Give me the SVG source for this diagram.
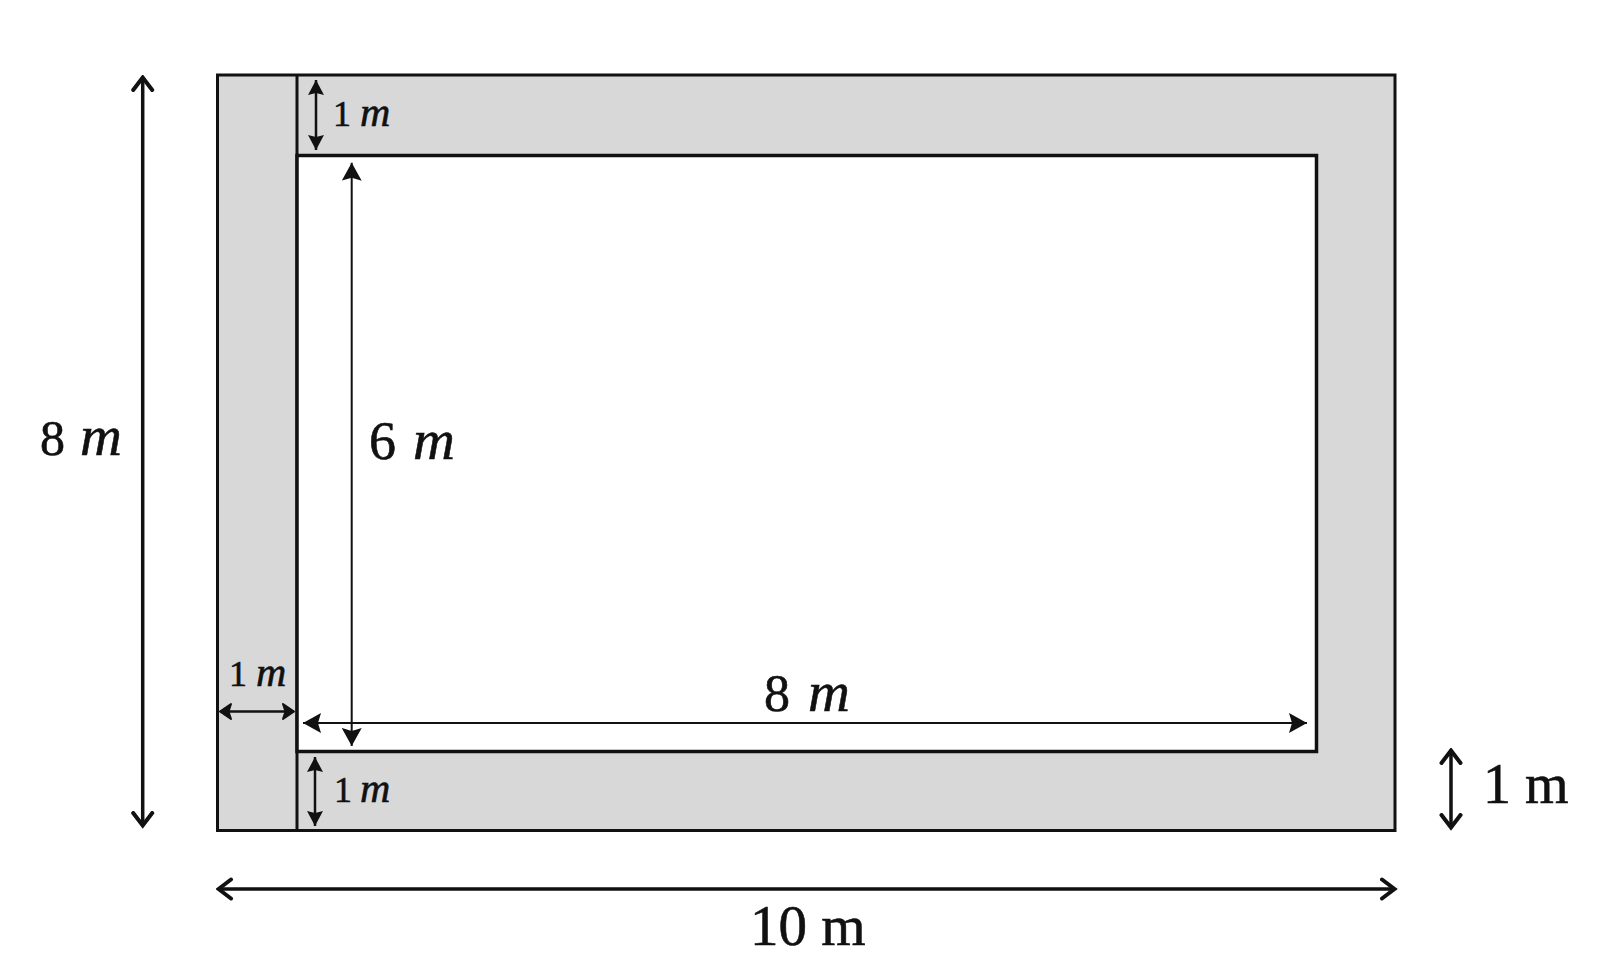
<svg xmlns="http://www.w3.org/2000/svg" width="1609" height="977" viewBox="0 0 1609 977">
<style>
.t{font-family:"Liberation Serif","Times New Roman",serif;fill:#111;stroke:#111;stroke-width:0.6}
.i{font-style:italic}
.thick{stroke:#111;stroke-width:3.5;fill:none}
.thin{stroke:#111;stroke-width:2;fill:none}
.mid{stroke:#111;stroke-width:2.5;fill:none}
</style>
<defs>
<marker id="chev" viewBox="0 0 18 24" refX="15.5" refY="12" markerWidth="18" markerHeight="24" markerUnits="userSpaceOnUse" orient="auto-start-reverse">
<path d="M2.5,2.5 L15,12 L2.5,21.5" fill="none" stroke="#111" stroke-width="4" stroke-linecap="round" stroke-linejoin="miter"/>
</marker>
<marker id="chevS" viewBox="0 0 15 19" refX="13" refY="9.5" markerWidth="15" markerHeight="19" markerUnits="userSpaceOnUse" orient="auto-start-reverse">
<path d="M2,2 L13,9.5 L2,17 L4.5,9.5 Z" fill="#111" stroke="#111" stroke-width="2" stroke-linejoin="round"/>
</marker>
<marker id="tri" viewBox="0 0 18 20" refX="18" refY="10" markerWidth="18" markerHeight="20" markerUnits="userSpaceOnUse" orient="auto-start-reverse">
<path d="M0,0 L18,10 L0,20 L3,10 Z" fill="#111"/>
</marker>
<marker id="triS" viewBox="0 0 15 16" refX="15" refY="8" markerWidth="15" markerHeight="16" markerUnits="userSpaceOnUse" orient="auto-start-reverse">
<path d="M0,0 L15,8 L0,16 L2,8 Z" fill="#111"/>
</marker>
</defs>
<rect width="1609" height="977" fill="#ffffff"/>
<g id="outer">
<rect x="217.5" y="75" width="1177.5" height="755.5" fill="#d8d8d8" stroke="#111" stroke-width="3"/>
<line x1="297" y1="75" x2="297" y2="830.5" stroke="#111" stroke-width="3"/>
</g>
<g id="inner">
<rect x="297" y="155.5" width="1019.5" height="596" fill="#ffffff" stroke="#111" stroke-width="3.5"/>
</g>
<g id="connectors">
<line class="thick" x1="142.7" y1="77" x2="142.7" y2="826" marker-start="url(#chev)" marker-end="url(#chev)"/>
<line class="thick" x1="218" y1="889" x2="1395" y2="889" marker-start="url(#chev)" marker-end="url(#chev)"/>
<line class="thick" x1="1451" y1="750" x2="1451" y2="828" marker-start="url(#chev)" marker-end="url(#chev)"/>
<line class="mid" x1="220" y1="711.5" x2="294" y2="711.5" marker-start="url(#chevS)" marker-end="url(#chevS)"/>
<line class="thin" x1="351.7" y1="162.7" x2="351.7" y2="746" marker-start="url(#tri)" marker-end="url(#tri)"/>
<line class="thin" x1="303" y1="723" x2="1307" y2="723" marker-start="url(#tri)" marker-end="url(#tri)"/>
<line class="mid" x1="316" y1="80" x2="316" y2="150" marker-start="url(#triS)" marker-end="url(#triS)"/>
<line class="mid" x1="315" y1="757" x2="315" y2="826" marker-start="url(#triS)" marker-end="url(#triS)"/>
</g>
<g id="labels">
<text class="t" font-size="50" y="455"><tspan x="40">8</tspan><tspan class="i" x="80" font-size="58">m</tspan></text>
<text class="t" font-size="54" y="459"><tspan x="369">6</tspan><tspan class="i" x="413" font-size="58">m</tspan></text>
<text class="t" font-size="52" y="711"><tspan x="764">8</tspan><tspan class="i" x="808" font-size="58">m</tspan></text>
<text class="t" font-size="36" y="126"><tspan x="333">1</tspan><tspan class="i" x="360" font-size="42">m</tspan></text>
<text class="t" font-size="36" y="686"><tspan x="229">1</tspan><tspan class="i" x="256" font-size="42">m</tspan></text>
<text class="t" font-size="36" y="802"><tspan x="334">1</tspan><tspan class="i" x="360" font-size="42">m</tspan></text>
<text class="t" font-size="56" x="1483" y="803">1 m</text>
<text class="t" font-size="57" x="750" y="945">10 m</text>
</g>
</svg>
